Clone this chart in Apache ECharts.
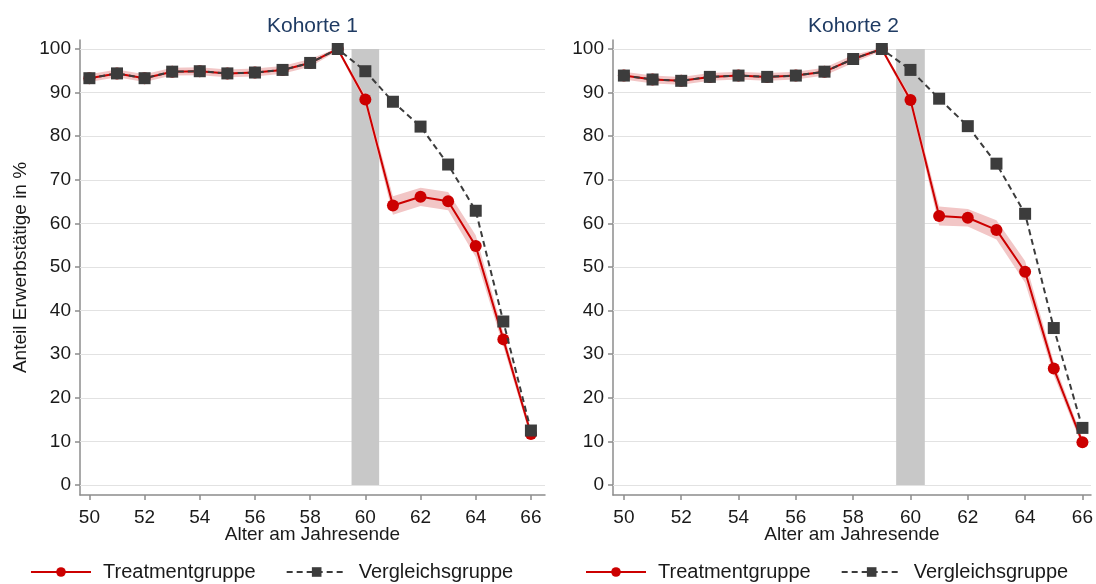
<!DOCTYPE html>
<html>
<head>
<meta charset="utf-8">
<script src="https://cdn.jsdelivr.net/npm/echarts@6/dist/echarts.min.js"></script>
<style>
html,body{margin:0;padding:0;background:#fff;}
#chart{width:1096px;height:584px;}
</style>
</head>
<body>
<div id="chart"></div>
<script>
// ---- Data ----
const ages = [50,51,52,53,54,55,56,57,58,59,60,61,62,63,64,65,66];
const xTicks = [50,52,54,56,58,60,62,64,66];
const yTicks = [0,10,20,30,40,50,60,70,80,90,100];
const titles = ['Kohorte 1','Kohorte 2'];
const seriesNames = ['Treatmentgruppe','Vergleichsgruppe'];
const shadeRange = [59.5, 60.5];

// Kohorte 1
const k1Treat = [93.3,94.4,93.3,94.8,94.9,94.4,94.6,95.2,96.8,100,88.4,64.1,66.1,65.1,54.8,33.4,11.7];
const k1Ctrl  = [93.3,94.4,93.3,94.8,94.9,94.4,94.6,95.2,96.8,100,94.9,87.9,82.2,73.5,62.9,37.5,12.5];
const k1Lo    = [92.4,93.5,92.4,93.9,94.0,93.5,93.7,94.3,95.9,99.6,87.4,62.0,64.0,63.0,52.3,31.8,10.7];
const k1Hi    = [94.2,95.3,94.2,95.7,95.8,95.3,95.5,96.1,97.7,100.2,89.4,66.2,68.2,67.2,57.3,35.0,12.7];

// Kohorte 2
const k2Treat = [93.9,93.0,92.7,93.6,93.9,93.6,93.9,94.8,97.7,100,88.3,61.7,61.3,58.5,48.9,26.7,9.8];
const k2Ctrl  = [93.9,93.0,92.7,93.6,93.9,93.6,93.9,94.8,97.7,100,95.2,88.6,82.3,73.7,62.2,36.0,13.1];
const k2Lo    = [93.0,92.1,91.8,92.7,93.0,92.7,93.0,93.9,96.8,99.6,87.3,59.5,59.3,56.3,46.4,25.2,8.8];
const k2Hi    = [94.8,93.9,93.6,94.5,94.8,94.5,94.8,95.7,98.6,100.2,89.3,63.9,63.3,60.7,51.4,28.2,10.8];

// ---- Styles ----
const FONT = '"Liberation Sans", Arial, sans-serif';
const RED = '#cc0000';
const DARK = '#3c3c3c';
const TXT = '#1a1a1a';
const AXIS = '#8c8c8c';

const panels = [
  {treat:k1Treat, ctrl:k1Ctrl, lo:k1Lo, hi:k1Hi, grid:{left:80, right:551, top:40, bottom:89}, xMin:49.66, xMax:66.51, legendLeft:30},
  {treat:k2Treat, ctrl:k2Ctrl, lo:k2Lo, hi:k2Hi, grid:{left:613, right:2, top:40, bottom:89}, xMin:49.62, xMax:66.30, legendLeft:585}
];

const pair = (xs, ys) => xs.map((x,i)=>[x, ys[i]]);

const option = {
  animation:false,
  backgroundColor:'#fff',
  textStyle:{fontFamily:FONT},
  title:[], grid:[], xAxis:[], yAxis:[], series:[], legend:[]
};

panels.forEach((p, k) => {
  const gl = p.grid.left, gr = 1096 - p.grid.right;
  option.grid.push({left:p.grid.left, right:p.grid.right, top:p.grid.top, bottom:p.grid.bottom, containLabel:false});
  option.title.push({
    text:titles[k], left:(gl+gr)/2, top:16, textAlign:'center', padding:0,
    textStyle:{fontFamily:FONT, fontSize:21, fontWeight:'normal', color:'#1f3b63'}
  });
  option.xAxis.push({
    type:'value', gridIndex:k, min:p.xMin, max:p.xMax,
    name:'Alter am Jahresende', nameLocation:'middle', nameGap:30, nameMoveOverlap:false,
    nameTextStyle:{fontFamily:FONT, fontSize:19, color:TXT},
    axisLine:{show:true, onZero:false, lineStyle:{color:AXIS, width:1.5}},
    axisTick:{show:true, length:5, customValues:xTicks, lineStyle:{color:AXIS, width:1.5}},
    axisLabel:{customValues:xTicks, fontFamily:FONT, fontSize:19, color:TXT, margin:13},
    splitLine:{show:false}
  });
  option.yAxis.push({
    type:'value', gridIndex:k, min:-2.29, max:102.06,
    name: k===0 ? 'Anteil Erwerbstätige in %' : '', nameLocation:'middle', nameGap:50,
    nameTextStyle:{fontFamily:FONT, fontSize:19, color:TXT},
    axisLine:{show:true, onZero:false, lineStyle:{color:AXIS, width:1.5}},
    axisTick:{show:true, length:5, customValues:yTicks, lineStyle:{color:AXIS, width:1.5}},
    axisLabel:{customValues:yTicks, fontFamily:FONT, fontSize:19, color:TXT, margin:9},
    splitLine:{show:false}
  });
  // gridlines + shaded area
  option.series.push({
    type:'line', xAxisIndex:k, yAxisIndex:k, data:[], silent:true, z:1,
    markLine:{
      silent:true, symbol:['none','none'], z:1, animation:false,
      label:{show:false},
      lineStyle:{color:'#e2e2e2', width:1.2, type:'solid'},
      emphasis:{disabled:true},
      data: yTicks.map(v=>({yAxis:v}))
    },
    markArea:{
      silent:true, z:2, animation:false,
      itemStyle:{color:'#c8c8c8', opacity:1},
      data:[[{xAxis:shadeRange[0], yAxis:yTicks[0]},{xAxis:shadeRange[1], yAxis:yTicks[yTicks.length-1]}]]
    }
  });
  // CI band (custom polygon through axis scales)
  const bandData = ages.map((a,i)=>[a, p.lo[i], p.hi[i]]);
  option.series.push({
    type:'custom', xAxisIndex:k, yAxisIndex:k, silent:true, z:3,
    data: bandData,
    encode:{x:0, y:[1,2]},
    renderItem:function(params, api){
      if (params.dataIndex !== 0) return null;
      const upper = bandData.map(d=>api.coord([d[0], d[2]]));
      const lower = bandData.slice().reverse().map(d=>api.coord([d[0], d[1]]));
      return {type:'polygon', shape:{points:upper.concat(lower)}, style:{fill:'#f2c6c6'}};
    }
  });
  option.series.push({
    name:seriesNames[0], type:'line', xAxisIndex:k, yAxisIndex:k, z:4,
    data: pair(ages, p.treat), symbol:'circle', symbolSize:12,
    lineStyle:{color:RED, width:2}, itemStyle:{color:RED}
  });
  option.series.push({
    name:seriesNames[1], type:'line', xAxisIndex:k, yAxisIndex:k, z:5,
    data: pair(ages, p.ctrl), symbol:'rect', symbolSize:12,
    lineStyle:{color:DARK, width:2, type:[6,4]}, itemStyle:{color:DARK}
  });
  option.legend.push({
    left:p.legendLeft, top:562, orient:'horizontal', padding:0,
    data:seriesNames, itemWidth:60, itemHeight:12, itemGap:30,
    selectedMode:false,
    textStyle:{fontFamily:FONT, fontSize:20, color:TXT, padding:[0,0,0,7]}
  });
});

const chart = echarts.init(document.getElementById('chart'), null, {renderer:'canvas'});
chart.setOption(option);
</script>
</body>
</html>
